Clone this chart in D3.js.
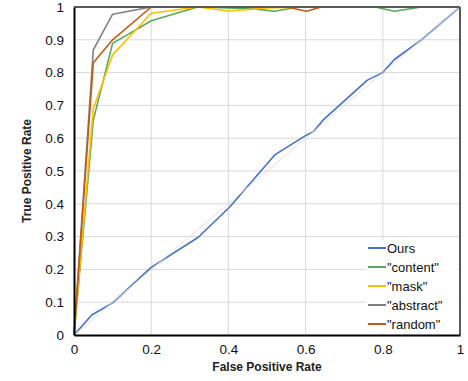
<!DOCTYPE html>
<html>
<head>
<meta charset="utf-8">
<script src="https://cdn.jsdelivr.net/npm/d3@7"></script>
<style>
  body { margin: 0; background: #fff; }
  text { font-family: "Liberation Sans", Arial, sans-serif; }
</style>
</head>
<body>
<div id="chart"></div>
<script>
// ROC curves
const seriesNames = ['Ours', '"content"', '"mask"', '"abstract"', '"random"'];
const seriesColors = ['#4472c4', '#5aa85a', '#ffc000', '#808080', '#c55a11'];

const oursFpr = [0, 0.046, 0.1, 0.2, 0.322, 0.404, 0.52, 0.603, 0.62, 0.645, 0.76, 0.8, 0.83, 0.9, 1];
const oursTpr = [0, 0.061, 0.098, 0.206, 0.298, 0.391, 0.549, 0.61, 0.62, 0.655, 0.777, 0.8, 0.84, 0.9, 1];

const contentFpr = [0, 0.05, 0.1, 0.2, 0.32, 0.46, 0.52, 0.58, 0.78, 0.83, 0.9, 1];
const contentTpr = [0, 0.655, 0.889, 0.958, 1, 0.995, 0.987, 1, 1, 0.987, 1, 1];

const maskFpr = [0, 0.05, 0.1, 0.2, 0.32, 0.4, 0.5, 0.6, 1];
const maskTpr = [0, 0.69, 0.854, 0.981, 1, 0.988, 0.997, 1, 1];

const abstractFpr = [0, 0.05, 0.1, 0.2, 1];
const abstractTpr = [0, 0.869, 0.978, 1, 1];

const randomFpr = [0, 0.05, 0.1, 0.2, 0.55, 0.603, 0.64, 1];
const randomTpr = [0, 0.83, 0.9, 1, 1, 0.987, 1, 1];

const xTicks = [0, 0.2, 0.4, 0.6, 0.8, 1];
const yTicks = [0, 0.1, 0.2, 0.3, 0.4, 0.5, 0.6, 0.7, 0.8, 0.9, 1];

const fprs = [oursFpr, contentFpr, maskFpr, abstractFpr, randomFpr];
const tprs = [oursTpr, contentTpr, maskTpr, abstractTpr, randomTpr];

const width = 468, height = 381;
const margin = { left: 74, right: 8, top: 7, bottom: 46 };

const svg = d3.select('#chart').append('svg')
  .attr('width', width)
  .attr('height', height);

const x = d3.scaleLinear().domain([0, 1]).range([margin.left, width - margin.right]);
const y = d3.scaleLinear().domain([0, 1]).range([height - margin.bottom, margin.top]);

// gridlines
svg.append('g')
  .selectAll('line.gx')
  .data(xTicks.slice(1, -1))
  .enter().append('line')
  .attr('x1', d => x(d)).attr('x2', d => x(d))
  .attr('y1', y(0)).attr('y2', y(1))
  .attr('stroke', '#d9d9d9').attr('stroke-width', 1);
svg.append('g')
  .selectAll('line.gy')
  .data(yTicks.slice(1, -1))
  .enter().append('line')
  .attr('x1', x(0)).attr('x2', x(1))
  .attr('y1', d => y(d)).attr('y2', d => y(d))
  .attr('stroke', '#d9d9d9').attr('stroke-width', 1);

const line = d3.line().x(d => x(d[0])).y(d => y(d[1]));

seriesNames.forEach((name, i) => {
  const pts = fprs[i].map((f, j) => [f, tprs[i][j]]);
  svg.append('path')
    .datum(pts)
    .attr('d', line)
    .attr('fill', 'none')
    .attr('stroke', seriesColors[i])
    .attr('stroke-width', 1.6)
    .attr('stroke-linejoin', 'round');
});

// chance diagonal
svg.append('line')
  .attr('x1', x(0)).attr('y1', y(0))
  .attr('x2', x(1)).attr('y2', y(1))
  .attr('stroke', '#d9d9d9')
  .attr('stroke-opacity', 0.8)
  .attr('stroke-width', 1);

// frame
svg.append('line')
  .attr('x1', x(0)).attr('x2', x(1)).attr('y1', y(1)).attr('y2', y(1))
  .attr('stroke', '#595959').attr('stroke-width', 2);
svg.append('line')
  .attr('x1', x(1)).attr('x2', x(1)).attr('y1', y(0)).attr('y2', y(1))
  .attr('stroke', '#595959').attr('stroke-width', 2);

// axes
const xAxis = svg.append('g')
  .attr('transform', 'translate(0,' + y(0) + ')')
  .call(d3.axisBottom(x).tickValues(xTicks).tickFormat(d3.format('')).tickSize(0).tickPadding(9));
const yAxis = svg.append('g')
  .attr('transform', 'translate(' + x(0) + ',0)')
  .call(d3.axisLeft(y).tickValues(yTicks).tickFormat(d3.format('')).tickSize(0).tickPadding(10));
[xAxis, yAxis].forEach(a => {
  a.select('.domain').attr('stroke', '#000').attr('stroke-width', 2);
  a.selectAll('text').attr('fill', '#111').style('font-size', '13.5px')
    .style('font-family', '"Liberation Sans", Arial, sans-serif');
});

// axis titles
svg.append('text')
  .attr('x', (x(0) + x(1)) / 2)
  .attr('y', 371)
  .attr('text-anchor', 'middle')
  .style('font-size', '12px')
  .style('font-weight', 'bold')
  .attr('fill', '#222')
  .text('False Positive Rate');
svg.append('text')
  .attr('transform', 'translate(31,' + ((y(0) + y(1)) / 2) + ') rotate(-90)')
  .attr('text-anchor', 'middle')
  .style('font-size', '12px')
  .style('font-weight', 'bold')
  .attr('fill', '#222')
  .text('True Positive Rate');

// legend
const legend = svg.append('g').attr('transform', 'translate(366,240)');
legend.append('rect')
  .attr('x', 0).attr('y', 0)
  .attr('width', 92).attr('height', 93)
  .attr('fill', '#fff');
seriesNames.forEach((name, i) => {
  const row = legend.append('g').attr('transform', 'translate(0,' + (8 + i * 19) + ')');
  row.append('line')
    .attr('x1', 2).attr('x2', 20)
    .attr('y1', 0).attr('y2', 0)
    .attr('stroke', seriesColors[i]).attr('stroke-width', 2);
  row.append('text')
    .attr('x', 21).attr('y', 4.5)
    .style('font-size', '13px')
    .attr('fill', '#111')
    .text(name);
});
</script>
</body>
</html>
